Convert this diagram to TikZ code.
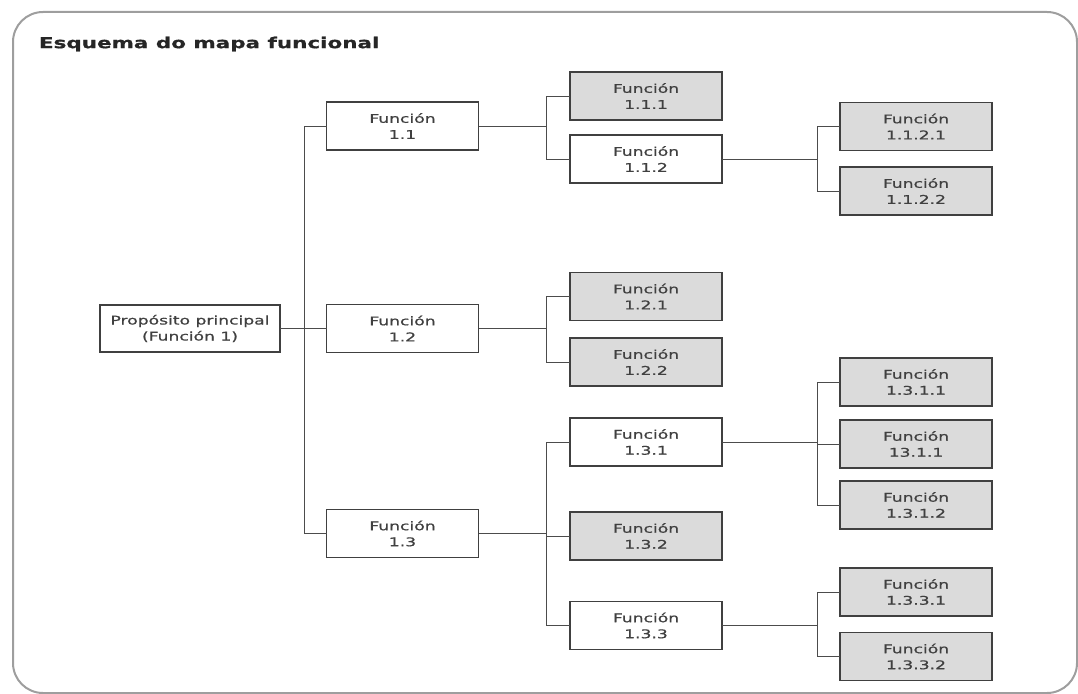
\documentclass[tikz,border=0pt]{standalone}
\usepackage{fontspec}
\setmainfont{DejaVu Sans}[FakeStretch=1.43, FakeBold=0.8]
\begin{document}
\begin{tikzpicture}[x=1pt,y=-1pt,
  every node/.style={inner sep=0pt, outer sep=0pt},
  fbox/.style={draw=black!75, line width=1.3pt, fill=white, minimum width=152pt, minimum height=48pt,
    align=center, text=black!75, font=\fontsize{12}{16}\selectfont},
  gbox/.style={fbox, fill=black!14},
  link/.style={draw=black!70, line width=1pt},
  title/.style={font=\bfseries\fontsize{15}{18}\selectfont, text=black!85, anchor=west}]
  \useasboundingbox (0,0) rectangle (1078,693);
  % outer frame
  \draw[black!38, line width=2pt, rounded corners=30pt] (13,12) rectangle (1077,693);
  \node[title] (ttl) at (39,44) {Esquema do mapa funcional};

  % level 0 and 1
  \node[fbox, minimum width=180pt, minimum height=47pt] (root) at (190,328.5) {Propósito principal\\(Función 1)};
  \node[fbox] (f11) at (402.5,126) {Función\\1.1};
  \node[fbox] (f12) at (402.5,328.5) {Función\\1.2};
  \node[fbox] (f13) at (402.5,533.5) {Función\\1.3};

  % level 2
  \node[gbox] (f111) at (646,96) {Función\\1.1.1};
  \node[fbox] (f112) at (646,159) {Función\\1.1.2};
  \node[gbox] (f121) at (646,296.5) {Función\\1.2.1};
  \node[gbox] (f122) at (646,362) {Función\\1.2.2};
  \node[fbox] (f131) at (646,442) {Función\\1.3.1};
  \node[gbox] (f132) at (646,536) {Función\\1.3.2};
  \node[fbox] (f133) at (646,625.5) {Función\\1.3.3};

  % level 3
  \node[gbox] (f1121) at (916,126.5) {Función\\1.1.2.1};
  \node[gbox] (f1122) at (916,191) {Función\\1.1.2.2};
  \node[gbox] (f1311) at (916,382) {Función\\1.3.1.1};
  \node[gbox] (f1311b) at (916,444) {Función\\13.1.1};
  \node[gbox] (f1312) at (916,505) {Función\\1.3.1.2};
  \node[gbox] (f1331) at (916,592) {Función\\1.3.3.1};
  \node[gbox] (f1332) at (916,656.5) {Función\\1.3.3.2};

  % connectors
  \draw[link] (root.east) -- (f12.west);
  \draw[link] (f11.west) -- ++(-22,0) |- (f13.west);

  \draw[link] (f11.east) -- ++(67,0);
  \draw[link] (f111.west) -- ++(-24,0) |- (f112.west);

  \draw[link] (f12.east) -- ++(67,0);
  \draw[link] (f121.west) -- ++(-24,0) |- (f122.west);

  \draw[link] (f13.east) -- ++(67,0);
  \draw[link] (f131.west) -- ++(-24,0) |- (f133.west);
  \draw[link] (f132.west) -- ++(-24,0);

  \draw[link] (f112.east) -- ++(96,0);
  \draw[link] (f1121.west) -- ++(-23,0) |- (f1122.west);

  \draw[link] (f131.east) -- ++(96,0);
  \draw[link] (f1311.west) -- ++(-23,0) |- (f1312.west);
  \draw[link] (f1311b.west) -- ++(-23,0);

  \draw[link] (f133.east) -- ++(96,0);
  \draw[link] (f1331.west) -- ++(-23,0) |- (f1332.west);
\end{tikzpicture}
\end{document}
